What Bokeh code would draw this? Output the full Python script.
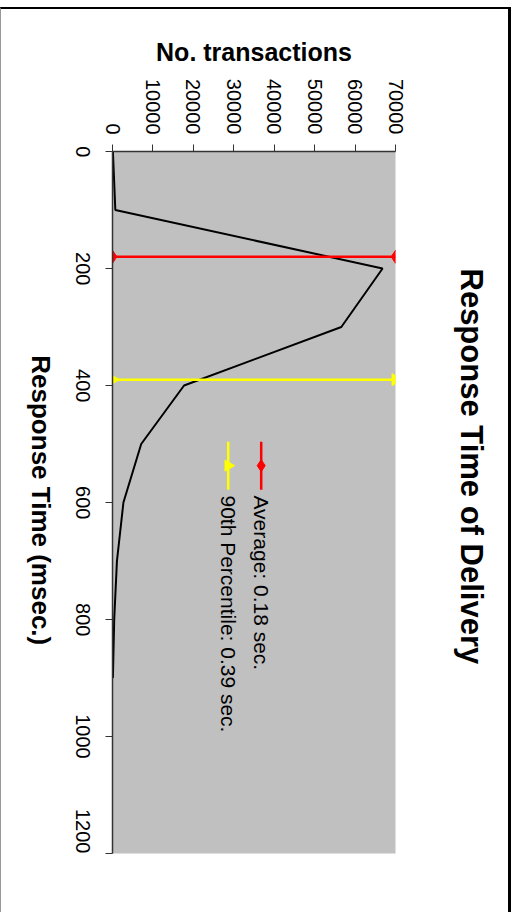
import math
from bokeh.plotting import figure
from bokeh.models import Range1d, LinearAxis, FixedTicker, InlineStyleSheet
from bokeh.core.properties import value
from bokeh.embed import file_html
from bokeh.resources import INLINE

# ---- data ----
resp_ms = [0, 100, 200, 300, 400, 500, 600, 700, 800, 900]
transactions = [100, 700, 66800, 56600, 17700, 7100, 2700, 1100, 420, 100]
avg_ms = 180
p90_ms = 390
avg_label = "Average: 0.18 sec."
p90_label = "90th Percentile: 0.39 sec."
x_ticks = [0, 10000, 20000, 30000, 40000, 50000, 60000, 70000]
y_ticks = [0, 200, 400, 600, 800, 1000, 1200]
x_title = "No. transactions"
y_title = "Response Time (msec.)"
chart_title = "Response Time of Delivery"

FONT = "Liberation Sans"
X_MAX = 70000
Y_MAX = 1200
TICK_FONT_PX = 20
FRAME_H = 912 - 151 - 59
PX_PER_MS = FRAME_H / Y_MAX
Y_TITLE_END = 844      # rotated axis title ends here (along the time axis)
CHART_TITLE_START = 200  # rotated chart title starts here

border_css = InlineStyleSheet(css="""
:host::after {
  content: "";
  position: absolute;
  left: 0px; top: 7px; width: 511px; height: 905px;
  box-sizing: border-box;
  border-top: 2px solid #000000;
  border-right: 3px solid #000000;
  border-left: 1px solid #999999;
  pointer-events: none;
  z-index: 100;
}
""")

p = figure(width=512, height=912,
           x_range=Range1d(0, X_MAX), y_range=Range1d(Y_MAX, 0),
           output_backend="svg", toolbar_location=None,
           x_axis_location=None, y_axis_location=None,
           min_border_left=112, min_border_right=117,
           min_border_top=151, min_border_bottom=59,
           stylesheets=[border_css])
p.background_fill_color = "#C0C0C0"
p.border_fill_color = "white"
p.outline_line_color = None
p.xgrid.visible = False
p.ygrid.visible = False

def style_axis(ax):
    ax.major_label_text_font = FONT
    ax.major_label_text_font_size = f"{TICK_FONT_PX}px"
    ax.major_label_text_color = "black"
    ax.axis_label_text_font = FONT
    ax.axis_label_text_font_style = "bold"
    ax.axis_label_text_color = "black"
    ax.axis_line_color = "#333333"
    ax.axis_line_width = 1.5
    ax.major_tick_line_color = "#333333"
    ax.major_tick_out = 7
    ax.major_tick_in = 0
    ax.minor_tick_line_color = None

def label_axis(ticks, labels, size, standoff, bold):
    ax = LinearAxis(ticker=FixedTicker(ticks=ticks),
                    major_label_overrides=dict(zip(ticks, labels)))
    ax.axis_line_color = None
    ax.major_tick_line_color = None
    ax.minor_tick_line_color = None
    ax.major_tick_out = 0
    ax.major_tick_in = 0
    ax.major_label_orientation = -math.pi / 2
    ax.major_label_standoff = standoff
    ax.major_label_text_font = FONT
    ax.major_label_text_font_size = size
    ax.major_label_text_font_style = "bold" if bold else "normal"
    ax.major_label_text_color = "black"
    return ax

# top axis: No. transactions
xa = LinearAxis(ticker=FixedTicker(ticks=x_ticks), axis_label=x_title)
style_axis(xa)
xa.axis_label_text_font_size = "25px"
xa.major_label_orientation = -math.pi / 2
xa.major_label_standoff = 10
xa.axis_label_standoff = 10
p.add_layout(xa, "above")

# left axis: line + tick marks only
ya = LinearAxis(ticker=FixedTicker(ticks=y_ticks),
                major_label_overrides={t: "" for t in y_ticks})
style_axis(ya)
ya.major_label_text_font_size = "0px"
ya.major_label_standoff = 0
p.add_layout(ya, "left")

# left tick labels, centred on their ticks (rotated labels anchor at their end)
y_tick_labels = [str(t) for t in y_ticks]
y_label_pos = [min(Y_MAX, round(t + len(s) * 0.556 * TICK_FONT_PX / 2 / PX_PER_MS))
               for t, s in zip(y_ticks, y_tick_labels)]
p.add_layout(label_axis(y_label_pos, y_tick_labels, f"{TICK_FONT_PX}px", 23, False), "left")

# rotated left axis title (reads top-to-bottom)
p.add_layout(label_axis([Y_TITLE_END], [y_title], "26px", 25, True), "left")

# rotated chart title on the right (reads top-to-bottom)
p.add_layout(label_axis([CHART_TITLE_START], [chart_title], "31px", 76, True), "right")

# distribution line
p.line(transactions, resp_ms, line_color="black", line_width=2)

# average line
p.line([0, X_MAX], [avg_ms, avg_ms], line_color="#FF0000", line_width=2.5)
p.scatter([0, X_MAX], [avg_ms, avg_ms], marker="diamond", size=13,
          fill_color="#FF0000", line_color="#FF0000")

# 90th percentile line
p.line([0, X_MAX], [p90_ms, p90_ms], line_color="#FFFF00", line_width=2.5)
p.scatter([0, X_MAX], [p90_ms, p90_ms], marker="triangle", size=12, angle=-math.pi / 2,
          fill_color="#FFFF00", line_color="#FFFF00")

# legend (rotated, drawn manually)
leg_avg_x = 36780
leg_p90_x = 28620
leg_y0, leg_y1, leg_ym, leg_ty = 496, 578, 537, 588
p.segment([leg_avg_x], [leg_y0], [leg_avg_x], [leg_y1], line_color="#FF0000", line_width=2.5)
p.scatter([leg_avg_x], [leg_ym], marker="diamond", size=12, fill_color="#FF0000", line_color="#FF0000")
p.segment([leg_p90_x], [leg_y0], [leg_p90_x], [leg_y1], line_color="#FFFF00", line_width=2.5)
p.scatter([leg_p90_x], [leg_ym], marker="triangle", size=11, angle=-math.pi / 2,
          fill_color="#FFFF00", line_color="#FFFF00")
p.text([leg_avg_x, leg_p90_x], [leg_ty, leg_ty], text=[avg_label, p90_label],
       angle=-math.pi / 2, text_font=value(FONT), text_font_size="21px",
       text_align="left", text_baseline="middle", text_color="black")

open("out.html", "w").write(file_html(p, INLINE))
